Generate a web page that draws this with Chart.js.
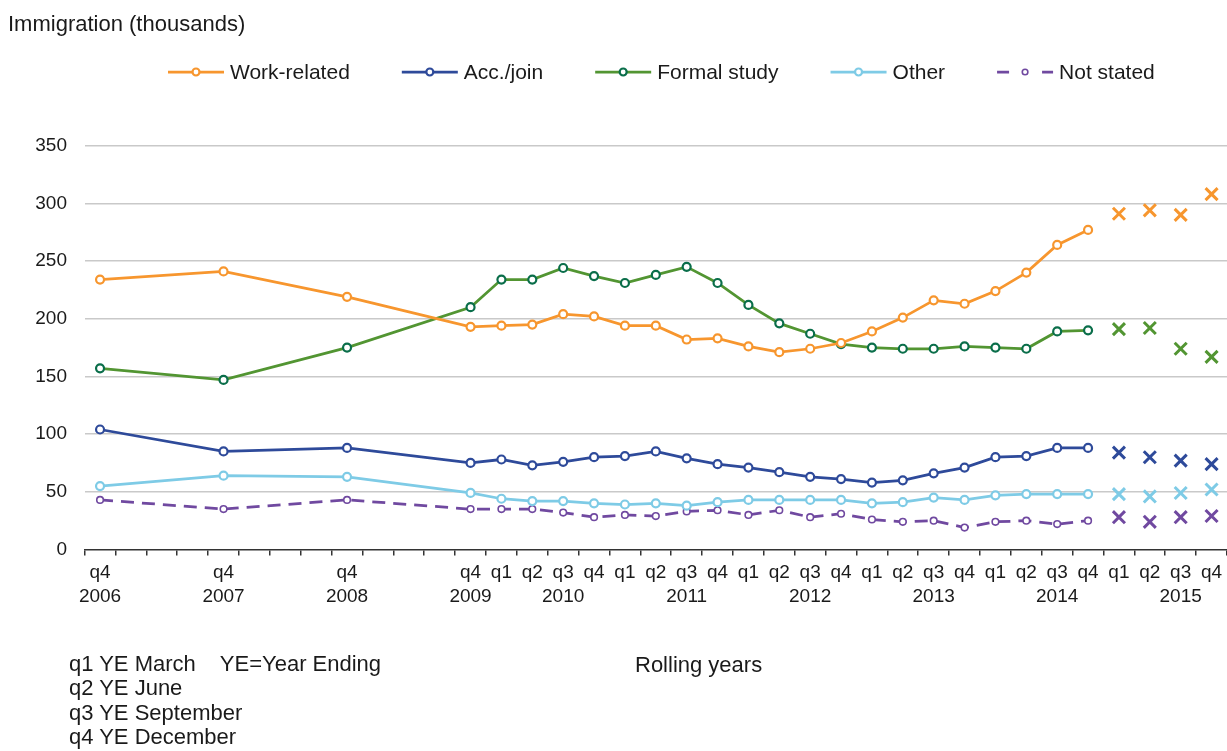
<!DOCTYPE html>
<html><head><meta charset="utf-8">
<script src="https://cdn.jsdelivr.net/npm/chart.js@4.4.1/dist/chart.umd.min.js"></script>
<style>
html,body{margin:0;padding:0;background:#fff;overflow:hidden;}
#wrap{position:relative;width:1227px;height:751px;}
canvas{position:absolute;left:0;top:0;}
.t{position:absolute;font-family:"Liberation Sans",Arial,sans-serif;color:#1a1a1a;white-space:pre;font-size:22px;line-height:25px;}
</style></head><body>
<div id="wrap">
<canvas id="c" width="1227" height="751"></canvas>
<div class="t" style="left:8px;top:10.5px;">Immigration (thousands)</div>
<div class="t" style="left:69px;top:651.5px;line-height:24.5px">q1 YE March    YE=Year Ending<br>q2 YE June<br>q3 YE September<br>q4 YE December</div>
<div class="t" style="left:635px;top:652px;">Rolling years</div>
</div>
<script>
// Category axis: one slot per quarter from q4 2006 to q4 2015
const quarterLabels = ['q4','','','','q4','','','','q4','','','',
  'q4','q1','q2','q3','q4','q1','q2','q3','q4','q1','q2','q3','q4',
  'q1','q2','q3','q4','q1','q2','q3','q4','q1','q2','q3','q4'];
const yearLabels = ['2006','','','','2007','','','','2008','','','',
  '2009','','','2010','','','','2011','','','','2012','',
  '','','2013','','','','2014','','','','2015',''];

// Rolling-year estimates, q4 2006 .. q4 2014 (null = no estimate in slot)
const workRelated = [234,null,null,null,241,null,null,null,219,null,null,null,
  193,194,195,204,202,194,194,182,183,176,171,174,179,189,201,216,213,224,240,264,277];
const accJoin = [104,null,null,null,85,null,null,null,88,null,null,null,
  75,78,73,76,80,81,85,79,74,71,67,63,61,58,60,66,71,80,81,88,88];
const formalStudy = [157,null,null,null,147,null,null,null,175,null,null,null,
  210,234,234,244,237,231,238,245,231,212,196,187,178,175,174,174,176,175,174,189,190];
const other = [55,null,null,null,64,null,null,null,63,null,null,null,
  49,44,42,42,40,39,40,38,41,43,43,43,43,40,41,45,43,47,48,48,48];
const notStated = [43,null,null,null,35,null,null,null,43,null,null,null,
  35,35,35,32,28,30,29,33,34,30,34,28,31,26,24,25,19,24,25,22,25];

// 2015 quarters (shown as crosses)
const workRelated2015 = [291,294,290,308];
const accJoin2015 = [84,80,77,74];
const formalStudy2015 = [191,192,174,167];
const other2015 = [48,46,49,52];
const notStated2015 = [28,24,28,29];

const labels = quarterLabels.map((q,i)=>[q, yearLabels[i]]);
const nProj = workRelated2015.length;
const nLine = workRelated.length;
const lineData = arr => arr.concat(new Array(nProj).fill(null));
const projData = arr => new Array(nLine).fill(null).concat(arr);

const FONT = '"Liberation Sans", Arial, sans-serif';
const TXT = '#1a1a1a';

const seriesDefs = [
  {label:'Work-related', line:workRelated, proj:workRelated2015, color:'#F7962E', marker:'#F7962E', dash:[]},
  {label:'Acc./join', line:accJoin, proj:accJoin2015, color:'#2E4A9A', marker:'#2E4A9A', dash:[]},
  {label:'Formal study', line:formalStudy, proj:formalStudy2015, color:'#529532', marker:'#0A6E4A', dash:[]},
  {label:'Other', line:other, proj:other2015, color:'#7ECBE6', marker:'#7ECBE6', dash:[]},
  {label:'Not stated', line:notStated, proj:notStated2015, color:'#7049A0', marker:'#7049A0', dash:[13,8]}
];

const datasets = [];
seriesDefs.forEach(s => {
  const small = s.dash.length > 0;
  datasets.push({
    label: s.label, data: lineData(s.line), spanGaps: true,
    borderColor: s.color, borderWidth: 2.75, borderDash: s.dash,
    pointRadius: small ? 3.3 : 4, pointBorderWidth: small ? 1.6 : 2.2,
    pointBackgroundColor: '#ffffff', pointBorderColor: s.marker,
    pointStyle: 'circle', tension: 0, isLegend: true
  });
});
seriesDefs.forEach(s => {
  datasets.push({
    label: s.label + ' 2015', data: projData(s.proj), showLine: false,
    borderColor: s.color, backgroundColor: s.color,
    pointStyle: 'crossRot', pointRadius: 8.5, pointBorderWidth: 3,
    pointBorderColor: s.color, isLegend: false, clip: false
  });
});

const legendPlugin = {
  id: 'customLegend',
  afterDraw(chart) {
    const ctx = chart.ctx;
    ctx.save();
    ctx.font = '21px ' + FONT;
    ctx.textBaseline = 'middle';
    ctx.textAlign = 'left';
    let x = 168;
    const y = 72;
    const lineLen = 56;
    chart.data.datasets.filter(d => d.isLegend).forEach(d => {
      ctx.strokeStyle = d.borderColor;
      ctx.lineWidth = 2.75;
      if (d.borderDash && d.borderDash.length) ctx.setLineDash([12, 33]); else ctx.setLineDash([]);
      ctx.beginPath(); ctx.moveTo(x, y); ctx.lineTo(x + lineLen, y); ctx.stroke();
      ctx.setLineDash([]);
      ctx.beginPath();
      ctx.arc(x + lineLen/2, y, d.pointRadius - 0.5, 0, Math.PI*2);
      ctx.fillStyle = '#ffffff'; ctx.fill();
      ctx.lineWidth = d.pointBorderWidth; ctx.strokeStyle = d.pointBorderColor; ctx.stroke();
      ctx.fillStyle = TXT;
      const tx = x + lineLen + 6;
      ctx.fillText(d.label, tx, y + 1);
      x = tx + ctx.measureText(d.label).width + 52;
    });
    ctx.restore();
  }
};

new Chart(document.getElementById('c'), {
  type: 'line',
  data: { labels, datasets },
  plugins: [legendPlugin],
  options: {
    responsive: false,
    animation: false,
    events: [],
    layout: { autoPadding: false, padding: { top: 145.7, right: 0, bottom: 0, left: 0 } },
    plugins: { legend: { display: false }, title: { display: false }, tooltip: { enabled: false } },
    scales: {
      x: {
        type: 'category', offset: true,
        afterFit(s) { s.height = 751 - 549.5; s.paddingLeft = 0; s.paddingRight = 0; },
        grid: { offset: true, drawOnChartArea: false, drawTicks: true, tickLength: 6, tickColor: '#333333', lineWidth: 1.5 },
        border: { display: true, color: '#333333', width: 1.5 },
        ticks: { autoSkip: false, maxRotation: 0, minRotation: 0, padding: 6, color: TXT,
          font: { family: FONT, size: 19, lineHeight: 1.23 } }
      },
      y: {
        min: 0, max: 350,
        afterFit(s) { s.width = 84.6; },
        grid: { drawTicks: false, lineWidth: 1.5,
          color: c => (c.tick && c.tick.value === 0) ? 'rgba(0,0,0,0)' : '#c9c9c9' },
        border: { display: false },
        ticks: { stepSize: 50, padding: 17.6, color: TXT, font: { family: FONT, size: 19 } }
      }
    }
  }
});
</script>
</body></html>
